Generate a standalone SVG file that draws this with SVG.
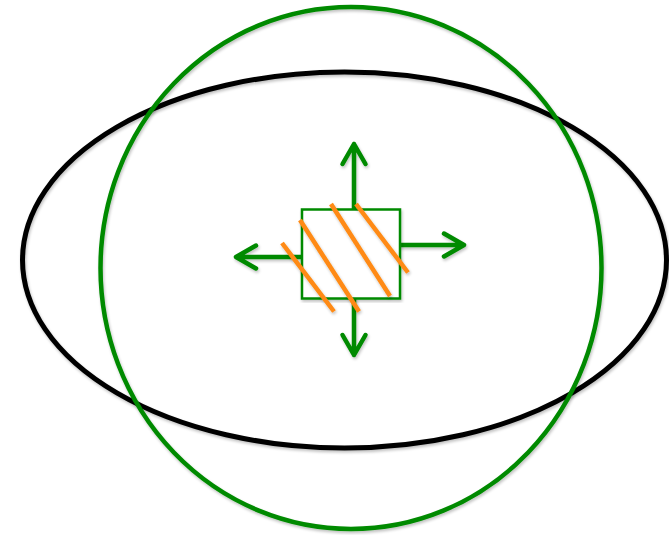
<svg xmlns="http://www.w3.org/2000/svg" width="669" height="535" viewBox="0 0 669 535">
<defs>
<style>
.g{fill:none;stroke:#008a00;stroke-linecap:round;stroke-linejoin:round}
.o{stroke:#ff8a12;stroke-width:4.5;stroke-linecap:butt}
</style>
<filter id="sh" x="-5%" y="-5%" width="110%" height="110%">
<feGaussianBlur in="SourceAlpha" stdDeviation="1.5"/>
<feOffset dx="1" dy="2"/>
<feComponentTransfer><feFuncA type="linear" slope="0.25"/></feComponentTransfer>
<feMerge><feMergeNode/><feMergeNode in="SourceGraphic"/></feMerge>
</filter>
</defs>
<rect width="669" height="535" fill="#fff"/>
<g id="outer-ellipse" filter="url(#sh)">
<ellipse cx="344.5" cy="260" rx="322" ry="188" fill="none" stroke="#000" stroke-width="5"/>
</g>
<g id="green-circle" filter="url(#sh)">
<ellipse cx="351" cy="268" rx="250.5" ry="261" fill="none" stroke="#008a00" stroke-width="4.5"/>
</g>
<g id="connectors" filter="url(#sh)">
<path class="g" stroke-width="4.5" d="M354 209V144M342.5 164L354 144L365.5 164"/>
<path class="g" stroke-width="4.5" d="M400 245H464M444 233.5L464 245L444 256.5"/>
<path class="g" stroke-width="4.5" d="M302 257H236M256 245.5L236 257L256 268.5"/>
<path class="g" stroke-width="4.5" d="M354 299V355M342.5 335L354 355L365.5 335"/>
</g>
<g id="square" filter="url(#sh)">
<rect x="302" y="209.5" width="98" height="89" fill="#fff" stroke="#008a00" stroke-width="2.5"/>
</g>
<g id="hatch" filter="url(#sh)">
<line class="o" x1="282" y1="243" x2="334" y2="311.5"/>
<line class="o" x1="300" y1="220" x2="359" y2="311.5"/>
<line class="o" x1="331" y1="204" x2="390" y2="296"/>
<line class="o" x1="356" y1="204" x2="408" y2="272.5"/>
</g>
</svg>
